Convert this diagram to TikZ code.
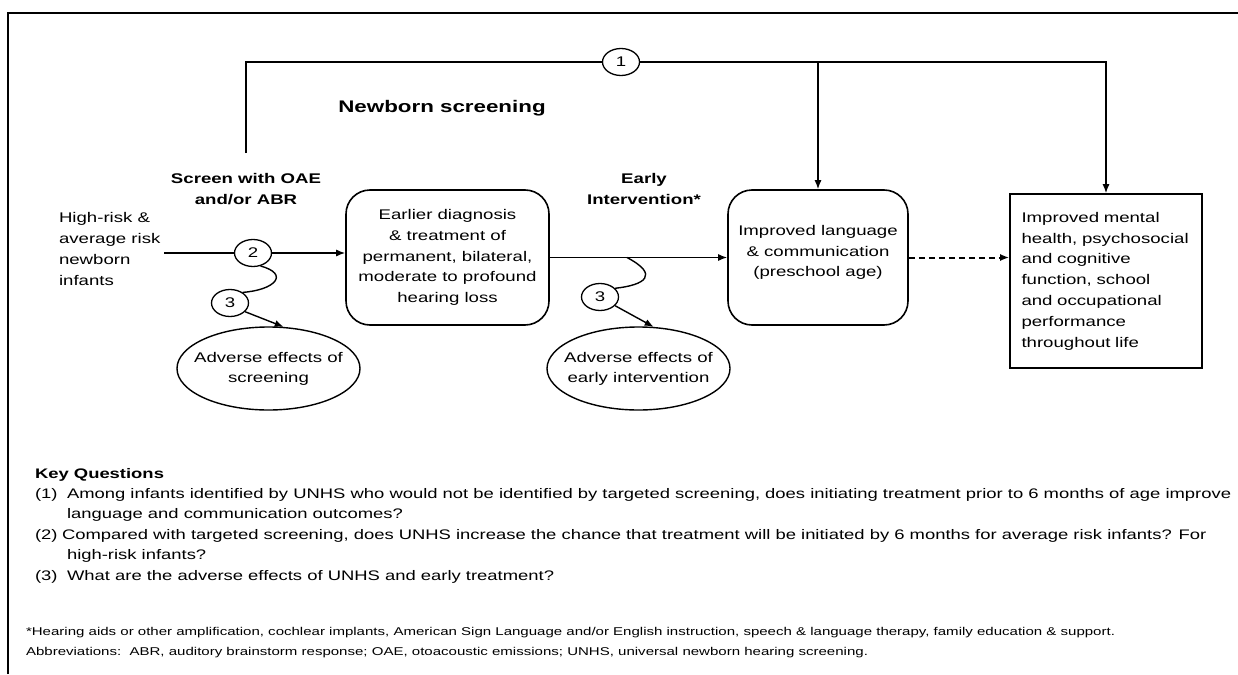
\documentclass[tikz,border=0pt]{standalone}
\usepackage{fontspec}
\setmainfont{Liberation Sans}[FakeStretch=1.33]
\usetikzlibrary{arrows.meta,shapes.geometric,positioning}

\begin{document}
\begin{tikzpicture}[x=1pt,y=-1pt,>={Latex[length=9pt,width=7pt]},line width=1.4pt,
  every node/.style={font=\fontsize{14}{20.8}\selectfont},
  box/.style={draw,line width=1.6pt,rounded corners=24pt,align=center,inner sep=0pt},
  kq/.style={draw,ellipse,minimum width=37pt,minimum height=27pt,inner sep=0pt,line width=1.3pt},
  adverse/.style={draw,ellipse,align=center,inner xsep=-10pt,inner ysep=0pt,
    minimum width=183pt,minimum height=83pt,font=\fontsize{14}{20}\selectfont},
  heading/.style={font=\bfseries\fontsize{14}{21.5}\selectfont,align=center}]
  \tikzstyle{note}=[anchor=west,font=\fontsize{11.3}{13}\selectfont]

  \useasboundingbox (0,0) rectangle (1238,674);
  \draw[line width=2.5pt] (8,674) -- (8,13) -- (1238,13);

  % flow
  \node[align=left,anchor=west] (infants) at (55,249) {High-risk \&\\average risk\\newborn\\infants};
  \node[kq]   (kq2)  at (253,253) {2};
  \node[heading] (screen) at (246,189) {Screen with OAE\\and/or ABR};
  \coordinate (screentop) at (246,153);
  \node[heading,font=\bfseries\fontsize{16.8}{20}\selectfont] (newborn) at (442,108) {Newborn screening};
  \node[kq]   (kq1)  at (621,62) {1};
  \node[box,minimum width=203pt,minimum height=135pt] (diag) at (447.5,257.5)
    {Earlier diagnosis\\\& treatment of\\permanent, bilateral,\\moderate to profound\\hearing loss};
  \node[heading] (early) at (644,189) {Early\\Intervention*};
  \node[box,minimum width=180pt,minimum height=135pt] (lang) at (818,257.5)
    {Improved language\\\& communication\\(preschool age)\\[-8pt]};
  \node[draw,line width=1.6pt,align=left,text width=169pt,inner xsep=11.5pt,minimum height=174pt] (life) at (1106,281)
    {Improved mental\\health, psychosocial\\and cognitive\\function, school\\and occupational\\performance\\throughout life};
  \node[kq]   (kq3a) at (230,303) {3};
  \node[kq]   (kq3b) at (600,297) {3};
  \node[adverse] (adv1) at (268.5,368.5) {Adverse effects of\\screening};
  \node[adverse] (adv2) at (638.5,368.5) {Adverse effects of\\early intervention};
  \coordinate (ei) at (627,257.5);

  \draw (screentop) |- (kq1);
  \draw[->] (kq1) -| (life);
  \draw[->] (kq1 -| lang) -- (lang);
  \draw (infants.east |- kq2) -- (kq2);
  \path[->]
  (kq2) edge (kq2 -| diag.west)
  (diag) edge (lang)
  (kq3a.-30) edge (adv1.70)
  (kq3b.-30) edge (adv2.70);
  \draw[->,line width=2pt,dash pattern=on 6pt off 4pt] (lang.east) -- (lang.east -| life.west);
  \draw (kq2.-60) .. controls (290,274) and (275,290) .. (kq3a.40);
  \draw (ei) .. controls (660,275) and (645,285) .. (kq3b.30);

  % key questions
  \node[anchor=north west,align=left,font=\fontsize{13.85}{20.4}\selectfont] (questions) at (31,464)
    {{\bfseries Key Questions}\\
     \makebox[32pt][l]{(1)}Among infants identified by UNHS who would not be identified by targeted screening, does initiating treatment prior to 6 months of age improve\\
     \hspace*{32pt}language and communication outcomes?\\
     \makebox[27pt][l]{(2)}Compared with targeted screening, does UNHS increase the chance that treatment will be initiated by 6 months for average risk infants? For\\
     \hspace*{32pt}high-risk infants?\\
     \makebox[32pt][l]{(3)}What are the adverse effects of UNHS and early treatment?};
  \node[note] (footstar) at (22,633) {*Hearing aids or other amplification, cochlear implants, American Sign Language and/or English instruction, speech \& language therapy, family education \& support.};
  \node[note] (abbrev) at (22,653) {Abbreviations:\ \ ABR, auditory brainstorm response; OAE, otoacoustic emissions; UNHS, universal newborn hearing screening.};
\end{tikzpicture}
\end{document}
